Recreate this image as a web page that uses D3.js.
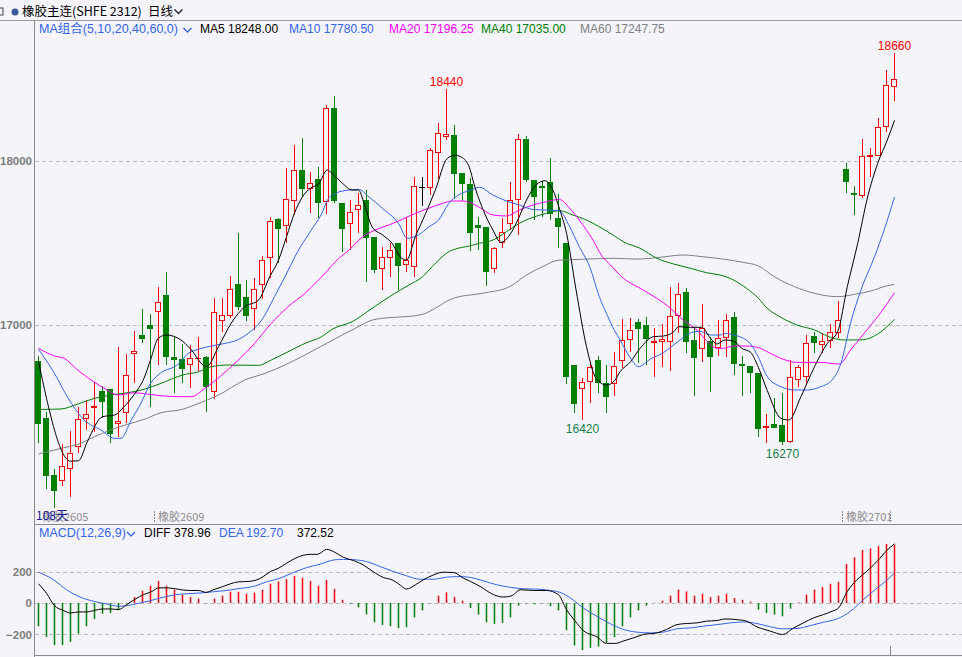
<!DOCTYPE html>
<html>
<head>
<meta charset="utf-8">
<script src="https://cdn.jsdelivr.net/npm/d3@7"></script>
<style>
  body { margin: 0; background: #f4f4fa; }
  svg { display: block; }
</style>
</head>
<body>
<div id="graf"></div>
<script>
// Datos: velas diarias (108 dias)
const openP = [16780,16435,16085,16047,16122,16254,16425,16494,16596,16608,
  16394,16461,16821,16939,17000,17077,17183,16803,16793,16754,
  16794,16807,16593,17022,17057,17250,17171,17096,17242,17407,
  17644,17606,17758,17943,17827,17890,17748,18321,17742,17614,
  17701,17762,17535,17343,17407,17498,17364,17352,17844,17837,
  18047,18148,18159,17925,17860,17608,17596,17339,17498,17614,
  17760,18134,17884,17848,17872,17654,17498,16756,16608,16654,
  16787,16644,16638,16779,16909,17018,17000,16892,16899,16898,
  17057,17201,16909,16852,16902,16858,16919,17049,16762,16752,
  16709,16370,16394,16388,16288,16665,16685,16933,16876,16902,
  16949,17949,17803,17788,18026,18032,18209,18449]
const highP = [16811,16471,16122,16274,16354,16502,16543,16654,16628,16610,
  16868,16823,16965,17096,17065,17234,17325,16925,16884,16878,
  16925,16813,17165,17165,17299,17559,17274,17285,17421,17660,
  17654,17957,18098,18138,17935,17961,18341,18396,17742,17762,
  17803,17823,17535,17474,17498,17498,17660,17904,17900,18081,
  18230,18440,18220,17925,17894,17660,17596,17478,17654,17870,
  18165,18154,17884,17878,18016,17799,17498,16756,16679,16776,
  16811,16756,16837,17037,17041,17035,17047,16980,17006,17234,
  17254,17227,16980,17128,16929,17030,17067,17081,16811,16752,
  16709,16457,16553,16583,16787,16756,16939,16959,16953,17006,
  17148,17990,17848,18136,18079,18260,18555,18660]
const lowP = [16282,16000,15884,16020,15949,16217,16360,16349,16431,16282,
  16319,16401,16645,16888,16502,16756,16756,16583,16648,16614,
  16722,16471,16547,16959,17041,17091,17024,16970,17157,17285,
  17376,17498,17671,17787,17681,17650,17675,17746,17447,17457,
  17563,17264,17315,17213,17295,17213,17321,17291,17726,17793,
  17888,18128,17766,17756,17451,17457,17240,17317,17468,17579,
  17549,17870,17640,17660,17640,17468,16638,16461,16420,16526,
  16583,16461,16569,16736,16837,16766,16756,16685,16746,16722,
  16949,16831,16569,16776,16593,16813,16807,16695,16569,16583,
  16319,16279,16370,16270,16279,16625,16648,16831,16827,16858,
  16919,17803,17671,17773,17904,18030,18179,18368]
const closeP = [16394,16079,15990,16138,16217,16425,16457,16506,16532,16337,
  16413,16693,16841,16915,16976,17138,16807,16787,16734,16797,
  16799,16624,17077,17059,17218,17112,17057,17220,17394,17632,
  17587,17766,17943,17827,17864,17746,18321,17758,17584,17687,
  17734,17532,17335,17416,17455,17361,17394,17848,17844,18067,
  18169,18165,17921,17858,17563,17590,17325,17470,17565,17760,
  18132,17884,17782,17837,17675,17599,16681,16518,16654,16746,
  16644,16563,16750,16909,16970,16974,16917,16902,16912,17057,
  17189,16898,16801,16980,16807,16923,17029,16762,16752,16705,
  16364,16384,16370,16288,16681,16742,16888,16892,16902,16955,
  17030,17874,17791,18030,18037,18209,18463,18500]

// Medias moviles: [indice, valor]
const ma5 = [[0,16776],[4,16170],[5,16172],[6.1,16288],[8,16441],[9.5,16451],[10.7,16502],[12,16579],[13.2,16677],[14,16787],[15,16921],[16,16939],[17.8,16909],[18.9,16860],[21,16746],[22.5,16868],[24.1,17012],[25.8,17112],[27.5,17152],[28.9,17294],[30,17396],[31,17538],[32,17683],[33,17782],[34,17835],[35,17860],[36.1,17945],[36.7,17925],[38,17864],[39.2,17823],[40,17823],[40.7,17742],[41.7,17599],[43,17549],[44.2,17498],[45.2,17416],[46,17396],[47.1,17538],[48.4,17681],[49.6,17823],[51.1,18016],[52.1,18035],[53,18020],[54,17940],[54.3,17884],[55.5,17712],[56.8,17579],[57.8,17504],[58.9,17549],[59.9,17640],[61,17762],[62.2,17854],[63.3,17880],[64.3,17823],[65.1,17712],[66,17560],[67.2,17213],[68.5,16868],[69.7,16675],[71,16634],[72,16660],[72.7,16715],[74,16776],[75.2,16858],[76.9,16929],[78.1,16933],[79.4,16959],[80,16990],[81.5,16986],[82.9,16986],[84,16919],[84.8,16884],[85.8,16909],[86.9,16902],[87.9,16858],[89,16834],[90,16740],[91.1,16600],[92.8,16431],[93.8,16421],[95.3,16563],[97,16746],[98.6,16888],[99.9,16960],[101.1,17234],[102.4,17498],[103.6,17773],[104.9,17986],[106.1,18128],[107,18248]]
const ma10 = [[0,16852],[2,16705],[3.6,16563],[5.7,16421],[7.8,16360],[9.5,16309],[10.3,16309],[11.6,16421],[12.8,16522],[14,16644],[15.3,16709],[17,16746],[17.5,16762],[18.7,16827],[20,16852],[21.6,16872],[23.3,16888],[24.6,16904],[26.2,16949],[27.9,17030],[29.5,17173],[30.8,17294],[32.5,17457],[34.1,17579],[35.5,17690],[36.1,17760],[37.1,17803],[38.8,17823],[40,17827],[41.3,17782],[43,17711],[45,17620],[46.1,17529],[47.5,17549],[48.8,17599],[50,17640],[51.3,17742],[52.5,17793],[54,17821],[55.1,17840],[56.8,17793],[58.5,17756],[60.1,17732],[61.8,17705],[63.5,17701],[65.1,17697],[66.4,17599],[67.6,17477],[68.9,17356],[70.1,17173],[71,17070],[72,16967],[72.7,16909],[74,16797],[75,16746],[76.5,16793],[78.1,16831],[79,16864],[80.2,16909],[81.3,16949],[82.7,16962],[84,16939],[85.2,16939],[85.8,16949],[86.9,16939],[88.1,16919],[89,16885],[90,16802],[91.1,16685],[92.8,16624],[94.5,16604],[96.1,16604],[97.8,16624],[99.2,16665],[100.3,16766],[101.5,17010],[102.8,17213],[104.5,17416],[105.7,17579],[107,17780.5]]
const ma20 = [[0,16858],[2,16811],[3.2,16797],[4.9,16726],[6.9,16654],[8.6,16604],[9.9,16573],[12,16587],[13.6,16579],[15.3,16569],[17.9,16563],[19.1,16563],[20.8,16614],[22.9,16695],[25,16787],[27,16888],[29.1,17010],[31.2,17112],[33.3,17193],[35,17274],[36,17325],[37.1,17386],[38.8,17457],[40.5,17538],[42.1,17579],[43.8,17610],[45.5,17645],[47.1,17681],[48.8,17712],[50.5,17742],[51.7,17756],[53,17756],[54,17746],[55.1,17718],[56.8,17671],[58.5,17665],[60.1,17701],[61.8,17732],[63.5,17752],[65.1,17766],[66.4,17712],[67.6,17640],[69.3,17518],[70.5,17416],[71.5,17366],[73.1,17285],[75.2,17224],[77.3,17163],[79,17102],[80.6,17030],[82.3,16970],[83.5,16904],[84.8,16858],[85.6,16858],[86.9,16872],[88.5,16872],[90,16862],[91.1,16837],[92.8,16797],[94.8,16772],[97.8,16772],[100.1,16762],[101.5,16847],[103.2,16949],[104.9,17051],[107,17196.25]]
const ma40 = [[0,16485],[2.8,16488],[4.9,16518],[7,16553],[9,16573],[11.1,16587],[13.2,16608],[15.3,16644],[18,16695],[20,16715],[21.6,16746],[23.7,16756],[27.5,16754],[29.1,16787],[31.2,16837],[33.3,16888],[35.4,16929],[36.7,16974],[39.2,17020],[41.7,17102],[44.2,17183],[46.3,17244],[48,17294],[49.6,17376],[51.3,17447],[54,17484],[55.1,17498],[56.8,17518],[58.5,17569],[60.1,17620],[61.8,17657],[63.5,17681],[65.1,17697],[66.8,17671],[68.5,17640],[70.1,17599],[72,17543],[73.1,17508],[75.2,17468],[77.3,17407],[79.4,17372],[81.5,17346],[83.5,17319],[85.2,17305],[86.9,17274],[88.5,17224],[90,17163],[91.1,17102],[92.8,17047],[94.8,17000],[97,16970],[99,16925],[100.7,16909],[102.8,16909],[104.9,16945],[107,17035]]
const ma60 = [[0,16213],[2.8,16248],[4.9,16272],[7,16319],[9,16360],[11.1,16394],[13.2,16425],[15.3,16465],[18,16486],[20,16522],[22.5,16573],[25.8,16665],[28.3,16705],[30.8,16756],[33.3,16817],[36,16888],[39.6,16980],[41.7,17030],[43.8,17045],[45.9,17051],[48,17065],[49.6,17102],[51.3,17152],[53,17177],[54,17183],[55.9,17197],[58.9,17234],[61,17305],[63,17356],[65.1,17396],[67.6,17400],[72,17407],[74.8,17402],[77.7,17413],[80.6,17427],[83.1,17416],[85.6,17402],[88.1,17382],[90,17360],[92,17294],[94.5,17234],[97,17193],[99.9,17173],[102,17187],[104,17207],[106.1,17240],[107,17247.75]]
const maNames = ["MA5", "MA10", "MA20", "MA40", "MA60"]
const maLast = [18248.00, 17780.50, 17196.25, 17035.00, 17247.75]

// MACD
const diffL = [[0,123],[1,62],[2,-17],[3.1,-47],[4,-64],[5,-57],[6,-57],[7,-47],[8,-38],[9,-38],[10,-42],[11,-11],[12.1,25],[13.1,53],[14.2,74],[15,97],[16,97],[17.1,91],[18.1,83],[19,80],[20,80],[20.9,68],[21.9,85],[23.1,106],[24,123],[25,135],[26.3,138],[27.3,148],[28.1,169],[29,201],[30,222],[31,254],[32.1,286],[33.1,305],[34,311],[34.8,311],[35.2,318],[36,343],[36.9,328],[38.1,292],[39.4,271],[40.6,243],[42.1,191],[43.1,163],[44.2,148],[45,123],[46,89],[47.1,116],[48.1,148],[49.4,180],[50.6,197],[51.9,195],[53.1,159],[54,138],[55.2,106],[56.9,53],[58.1,38],[59.2,47],[60.2,85],[61.9,80],[63.5,80],[65,53],[66,-42],[67.1,-116],[68.1,-176],[69.8,-216],[71,-258],[72.1,-258],[73.1,-243],[74.4,-222],[75.6,-201],[77.3,-191],[78.5,-169],[79.8,-138],[81,-131],[82.3,-127],[83.5,-116],[84.8,-112],[85.8,-102],[87.3,-106],[88.5,-116],[89.8,-152],[91.5,-180],[93,-201],[94.4,-159],[95.6,-127],[96.9,-95],[98.1,-74],[99.2,-53],[100,-32],[101.1,74],[102.3,148],[103.5,201],[104.8,265],[106.1,339],[107,378.96]]
const deaL = [[0,197],[1.9,148],[3.5,85],[5.2,38],[6.9,11],[8.5,-6],[10,-21],[11,-17],[12.7,0],[14,15],[15.2,32],[16.9,51],[18.5,59],[20.2,64],[21.9,72],[23.5,80],[25.2,93],[26.9,106],[28.5,135],[30.2,159],[31.9,195],[33.5,226],[35.2,248],[36.9,275],[38.1,279],[39.8,275],[41,265],[42.7,233],[44.4,201],[46,174],[47.7,152],[49.4,152],[51,165],[52.7,169],[54,163],[55.4,145],[57.3,116],[59,100],[60.6,91],[62.3,89],[64,80],[65.2,68],[66.5,32],[68.1,-32],[69.8,-85],[71.5,-133],[73.1,-169],[74.8,-186],[76.5,-191],[78.1,-186],[79.8,-165],[81.5,-159],[83.1,-148],[84.8,-138],[86.5,-127],[88.1,-121],[89.8,-131],[91.5,-152],[93.1,-165],[94.8,-163],[96.5,-144],[98.1,-123],[99.8,-102],[101.5,-53],[103.1,21],[104.8,95],[106.1,148],[107,192.70]]
const histV = [-148,-216,-269,-269,-248,-195,-148,-102,-68,-64,
  -42,-3,38,78,110,142,110,85,53,38,
  28,-3,28,47,72,72,59,66,85,123,
  138,152,174,161,142,110,148,91,21,-6,
  -28,-72,-123,-140,-148,-161,-155,-91,-47,-3,
  47,68,40,15,-32,-74,-123,-133,-127,-91,
  -17,-4,-8,-4,-21,-47,-174,-271,-301,-286,
  -279,-254,-218,-148,-91,-47,-17,2,15,47,
  85,74,47,59,38,47,59,32,21,8,
  -42,-64,-74,-85,-36,4,53,85,102,123,
  135,250,292,339,349,364,377,372.52]

const yTicks = [17000, 18000]
const macdTicks = [-200, 0, 200]
const marks = [[51, "high"], [68, "low"], [93, "low"], [107, "high"]]
const contracts = [[-0.5, "橡胶2605"], [14.5, "橡胶2609"], [100.5, "橡胶2701"]]
const lastMark = 106.5
const dayCount = "108天"

// Dimensiones
const W = 962, H = 657
const left = 34
const bg = "#f4f4fa"
const red = "#ff0000", green = "#008000", blue = "#3464e8", magenta = "#ff00ff", grayL = "#808080"
const sansF = "'Liberation Sans', Arial, 'Noto Sans CJK SC', sans-serif"
const cjkF = "'Noto Sans CJK SC', 'Liberation Sans', sans-serif"

const svg = d3.select("#graf").append("svg")
  .attr("width", W).attr("height", H)
  .style("font-family", sansF)
svg.append("rect").attr("width", W).attr("height", H).attr("fill", bg)

const defs = svg.append("defs")
defs.append("clipPath").attr("id", "clipMain")
  .append("rect").attr("x", left + 1).attr("y", 21).attr("width", W - left).attr("height", 503)
defs.append("clipPath").attr("id", "clipMacd")
  .append("rect").attr("x", left + 1).attr("y", 525).attr("width", W - left).attr("height", 130)

// Escaladores
const x = d3.scaleLinear().domain([-0.5, 115.5]).range([left, W])
const y = d3.scaleLinear().domain([15805, 18738]).range([521, 40])
const yM = d3.scaleLinear().domain([-327, 400]).range([654.2, 540.4])

// Marcos
svg.append("line").attr("x1", 0).attr("x2", W).attr("y1", 20.5).attr("y2", 20.5).attr("stroke", "#9a9a9a")
svg.append("line").attr("x1", left + 0.5).attr("x2", left + 0.5).attr("y1", 20).attr("y2", H).attr("stroke", "#8a8a8a")
svg.append("line").attr("x1", left).attr("x2", W).attr("y1", 524.5).attr("y2", 524.5).attr("stroke", "#8a8a8a")
svg.append("line").attr("x1", left).attr("x2", W).attr("y1", 655.5).attr("y2", 655.5).attr("stroke", "#8a8a8a")

// Rejilla
svg.append("g").selectAll("line").data(yTicks).join("line")
  .attr("x1", left + 1).attr("x2", W)
  .attr("y1", d => Math.round(y(d)) + 0.5).attr("y2", d => Math.round(y(d)) + 0.5)
  .attr("stroke", "#bdbdbd").attr("stroke-dasharray", "4,3")
svg.append("g").selectAll("line").data(macdTicks).join("line")
  .attr("x1", left + 1).attr("x2", W)
  .attr("y1", d => Math.round(yM(d)) + 0.5).attr("y2", d => Math.round(yM(d)) + 0.5)
  .attr("stroke", "#bdbdbd").attr("stroke-dasharray", "4,3")

// Ejes
const styleAxis = (g) => {
  g.select(".domain").remove()
  g.attr("font-family", sansF)
  g.selectAll("text").attr("fill", "#7c7c7c").attr("font-size", 11.5).attr("font-weight", "bold")
}
svg.append("g").attr("transform", `translate(${left},0)`)
  .call(d3.axisLeft(y).tickValues(yTicks).tickSize(0).tickPadding(2).tickFormat(d3.format("d")))
  .call(styleAxis)
svg.append("g").attr("transform", `translate(${left},0)`)
  .call(d3.axisLeft(yM).tickValues(macdTicks).tickSize(0).tickPadding(2).tickFormat(d3.format("d")))
  .call(styleAxis)

// Velas
const candles = closeP.map((c, i) => ({ i, o: openP[i], h: highP[i], l: lowP[i], c }))
const colorOf = (d) => (d.c > d.o ? red : d.c < d.o ? green : "#000")
const cxOf = (d) => Math.round(x(d.i))
const topOf = (d) => Math.round(y(Math.max(d.o, d.c)))
const botOf = (d) => Math.round(y(Math.min(d.o, d.c)))

const gC = svg.append("g").attr("clip-path", "url(#clipMain)")
gC.selectAll("line.wick").data(candles).join("line")
  .attr("class", "wick")
  .attr("x1", d => cxOf(d) + 0.5).attr("x2", d => cxOf(d) + 0.5)
  .attr("y1", d => Math.round(y(d.h))).attr("y2", d => Math.round(y(d.l)))
  .attr("stroke", colorOf)
gC.selectAll("rect.up").data(candles.filter(d => d.c > d.o)).join("rect")
  .attr("class", "up")
  .attr("x", d => cxOf(d) - 2.5).attr("width", 5)
  .attr("y", d => topOf(d) + 0.5)
  .attr("height", d => Math.max(botOf(d) - topOf(d) - 1, 0.01))
  .attr("fill", bg).attr("stroke", red)
gC.selectAll("rect.down").data(candles.filter(d => d.c <= d.o)).join("rect")
  .attr("class", "down")
  .attr("x", d => cxOf(d) - 3).attr("width", 6)
  .attr("y", d => topOf(d))
  .attr("height", d => Math.max(botOf(d) - topOf(d), 1))
  .attr("fill", colorOf)

// Medias moviles
const line = d3.line().x(d => x(d[0]) + 0.5).y(d => y(d[1])).curve(d3.curveMonotoneX)
const maSeries = [[ma60, grayL], [ma40, green], [ma20, magenta], [ma10, blue], [ma5, "#000"]]
gC.selectAll("path.ma").data(maSeries).join("path")
  .attr("class", "ma")
  .attr("d", d => line(d[0]))
  .attr("fill", "none").attr("stroke", d => d[1]).attr("stroke-width", 1)

// Maximos y minimos
svg.append("g").selectAll("text").data(marks).join("text")
  .attr("x", d => x(d[0]) + 0.5)
  .attr("y", d => d[1] === "high" ? y(highP[d[0]]) - 3 : y(lowP[d[0]]) + 13)
  .attr("text-anchor", "middle").attr("font-size", 12)
  .attr("fill", d => d[1] === "high" ? red : "#168048")
  .text(d => d[1] === "high" ? highP[d[0]] : lowP[d[0]])

// Contratos
const gK = svg.append("g")
gK.selectAll("line").data(contracts.slice(1).map(d => d[0]).concat([lastMark])).join("line")
  .attr("x1", d => x(d) + 0.5).attr("x2", d => x(d) + 0.5)
  .attr("y1", 511).attr("y2", 523)
  .attr("stroke", "#8a8a8a").attr("stroke-dasharray", "2,1")
gK.selectAll("text").data(contracts).join("text")
  .attr("x", d => x(d[0]) + (d[0] < 0 ? 8 : 4)).attr("y", 521)
  .attr("font-size", 11).attr("font-family", cjkF).attr("fill", "#8c8c8c")
  .text(d => d[1])
svg.append("text").attr("x", 36).attr("y", 520).attr("font-size", 12)
  .attr("font-family", cjkF).attr("fill", "#1a1a9a").text(dayCount)
svg.append("line").attr("x1", x(lastMark) + 0.5).attr("x2", x(lastMark) + 0.5)
  .attr("y1", 646).attr("y2", 656).attr("stroke", "#8a8a8a")

// MACD
const gM = svg.append("g").attr("clip-path", "url(#clipMacd)")
gM.selectAll("line").data(histV).join("line")
  .attr("x1", (d, i) => Math.round(x(i)) + 0.5).attr("x2", (d, i) => Math.round(x(i)) + 0.5)
  .attr("y1", yM(0)).attr("y2", d => yM(d))
  .attr("stroke", d => d >= 0 ? red : green).attr("stroke-width", 1.5)
const lineM = d3.line().x(d => x(d[0]) + 0.5).y(d => yM(d[1])).curve(d3.curveMonotoneX)
gM.append("path").attr("d", lineM(deaL)).attr("fill", "none").attr("stroke", blue)
gM.append("path").attr("d", lineM(diffL)).attr("fill", "none").attr("stroke", "#000")

// Encabezados
const chevron = (x0, y0, color) =>
  svg.append("polyline")
    .attr("points", `${x0},${y0} ${x0 + 4},${y0 + 4} ${x0 + 8},${y0}`)
    .attr("fill", "none").attr("stroke", color).attr("stroke-width", 1.3)

svg.append("rect").attr("x", -4).attr("y", 8).attr("width", 7).attr("height", 7)
  .attr("fill", "none").attr("stroke", "#444")
svg.append("circle").attr("cx", 15).attr("cy", 12).attr("r", 3.5).attr("fill", "#3b5a9c")
svg.append("text").attr("x", 22).attr("y", 16).attr("font-size", 12.5)
  .attr("font-family", cjkF).attr("fill", "#000").text("橡胶主连(SHFE 2312)")
svg.append("text").attr("x", 148).attr("y", 16).attr("font-size", 12.5)
  .attr("font-family", cjkF).attr("fill", "#000").text("日线")
chevron(174.5, 9.5, "#222")

svg.append("text").attr("x", 39).attr("y", 33).attr("font-size", 12.5).attr("fill", blue)
  .text("MA组合(5,10,20,40,60,0)")
chevron(183.5, 28, blue)
const maColors = ["#000", blue, magenta, green, grayL]
const maX = [200, 289, 389, 481, 580]
svg.append("g").selectAll("text").data(maNames).join("text")
  .attr("x", (d, i) => maX[i]).attr("y", 33).attr("font-size", 12)
  .attr("fill", (d, i) => maColors[i])
  .text((d, i) => `${d} ${maLast[i].toFixed(2)}`)

const macdLast = [diffL[diffL.length - 1][1], deaL[deaL.length - 1][1], histV[histV.length - 1]]
svg.append("text").attr("x", 39).attr("y", 537).attr("font-size", 12.5).attr("fill", blue)
  .text("MACD(12,26,9)")
chevron(127, 532, blue)
svg.append("text").attr("x", 144).attr("y", 537).attr("font-size", 12).attr("fill", "#000")
  .text(`DIFF ${macdLast[0].toFixed(2)}`)
svg.append("text").attr("x", 219).attr("y", 537).attr("font-size", 12).attr("fill", blue)
  .text(`DEA ${macdLast[1].toFixed(2)}`)
svg.append("text").attr("x", 297).attr("y", 537).attr("font-size", 12).attr("fill", "#000")
  .text(macdLast[2].toFixed(2))
</script>
</body>
</html>
